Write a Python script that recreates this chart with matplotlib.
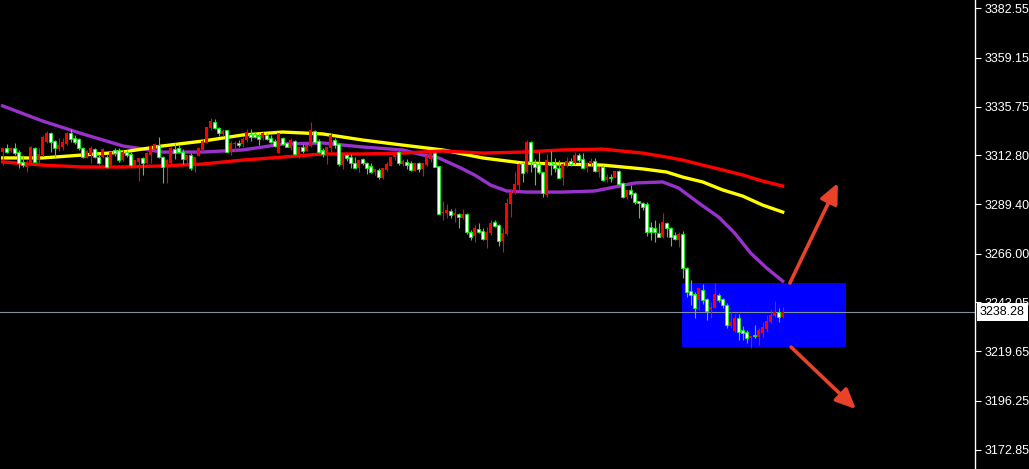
import numpy as np
import matplotlib
matplotlib.use("Agg")
import matplotlib.pyplot as plt
import matplotlib.transforms as mtransforms
from matplotlib.patches import Rectangle

# OHLC (one bar every candle index)
opens = [
    3314.4, 3316.1, 3314.8, 3316.3, 3314.2, 3309.7, 3307.3, 3308.9, 3316.3, 3310.5,
    3312.9, 3319.2, 3323.2, 3319.5, 3315.6, 3316.8, 3318.0, 3323.2, 3320.8, 3320.5,
    3316.1, 3311.6, 3312.9, 3315.7, 3312.1, 3312.1, 3312.1, 3308.1, 3315.3, 3315.3,
    3310.5, 3314.2, 3313.2, 3308.1, 3309.7, 3311.3, 3308.9, 3312.9, 3315.6, 3317.6,
    3312.1, 3308.1, 3308.9, 3315.6, 3316.1, 3314.4, 3310.5, 3312.9, 3308.1, 3312.4,
    3315.3, 3318.7, 3325.6, 3328.7, 3325.6, 3322.9, 3324.8, 3314.4, 3318.0, 3318.4,
    3318.0, 3320.0, 3322.9, 3322.7, 3321.9, 3320.8, 3322.4, 3321.1, 3319.5, 3313.7,
    3320.8, 3318.4, 3316.1, 3319.5, 3313.2, 3316.8, 3314.8, 3317.3, 3324.3, 3319.5,
    3315.3, 3313.2, 3316.1, 3320.0, 3318.0, 3308.1, 3312.9, 3312.1, 3308.9, 3306.8,
    3310.8, 3308.9, 3307.8, 3304.7, 3305.8, 3302.1, 3305.8, 3307.8, 3311.8, 3314.4,
    3308.5, 3309.7, 3308.9, 3305.4, 3309.2, 3306.1, 3308.1, 3310.8, 3314.0, 3307.7,
    3285.2, 3285.5, 3286.3, 3284.4, 3284.9, 3282.8, 3284.9, 3276.4, 3274.4, 3277.9,
    3276.9, 3272.5, 3276.0, 3281.1, 3279.6, 3272.2, 3275.4, 3289.6, 3295.0, 3298.6,
    3308.9, 3304.7, 3319.2, 3309.1, 3308.5, 3304.7, 3293.9, 3309.7, 3308.5, 3306.6,
    3302.1, 3307.8, 3310.0, 3308.9, 3312.9, 3311.0, 3306.8, 3308.5, 3310.0, 3304.9,
    3307.3, 3301.0, 3302.6, 3301.8, 3305.3, 3299.4, 3293.1, 3296.3, 3294.7, 3291.0,
    3289.9, 3289.5, 3278.7, 3278.3, 3276.0, 3273.8, 3280.7, 3278.1, 3274.9, 3272.5,
    3275.2, 3259.3, 3248.3, 3246.7, 3244.0, 3248.8, 3244.5, 3239.3, 3240.3, 3246.4,
    3244.5, 3241.6, 3231.8, 3229.3, 3235.3, 3229.8, 3228.7, 3226.0, 3227.4, 3226.6,
    3228.6, 3230.2, 3233.5, 3236.4, 3238.4, 3236.1,
]
highs = [
    3316.2, 3318.0, 3316.7, 3318.4, 3315.3, 3312.9, 3310.5, 3317.2, 3316.8, 3316.1,
    3322.4, 3324.4, 3323.9, 3320.0, 3320.8, 3320.8, 3323.8, 3325.2, 3322.4, 3320.8,
    3316.8, 3315.3, 3317.2, 3316.3, 3312.9, 3316.2, 3312.9, 3314.8, 3316.1, 3316.1,
    3315.3, 3315.3, 3314.3, 3310.5, 3311.5, 3312.1, 3314.3, 3317.6, 3318.6, 3321.6,
    3312.4, 3310.8, 3316.8, 3318.4, 3317.6, 3315.6, 3312.9, 3313.7, 3312.1, 3316.1,
    3320.3, 3326.3, 3330.3, 3329.8, 3326.3, 3325.2, 3324.8, 3319.7, 3319.7, 3320.0,
    3321.3, 3325.1, 3325.1, 3323.9, 3323.2, 3323.8, 3323.2, 3322.4, 3320.5, 3323.3,
    3321.6, 3319.1, 3320.8, 3320.0, 3316.8, 3318.0, 3317.6, 3328.4, 3324.8, 3320.5,
    3316.1, 3316.5, 3323.2, 3320.8, 3318.4, 3312.9, 3313.2, 3313.2, 3312.1, 3310.5,
    3311.6, 3309.7, 3308.9, 3306.2, 3306.6, 3306.8, 3309.4, 3312.1, 3314.4, 3314.9,
    3311.0, 3310.8, 3310.2, 3309.2, 3309.7, 3308.9, 3313.4, 3314.4, 3314.4, 3307.7,
    3291.2, 3289.6, 3287.1, 3287.6, 3285.2, 3287.1, 3285.2, 3277.3, 3279.6, 3280.7,
    3278.1, 3278.5, 3282.0, 3282.0, 3280.1, 3278.1, 3292.3, 3296.6, 3304.9, 3308.9,
    3309.7, 3320.0, 3319.5, 3311.0, 3314.4, 3304.9, 3313.2, 3314.8, 3311.3, 3310.5,
    3308.9, 3312.1, 3311.3, 3314.4, 3313.7, 3313.7, 3309.7, 3311.3, 3311.3, 3307.3,
    3308.1, 3303.7, 3303.7, 3305.3, 3305.8, 3300.2, 3296.3, 3298.6, 3295.4, 3291.0,
    3290.7, 3290.7, 3281.1, 3282.0, 3280.6, 3285.2, 3281.2, 3278.5, 3276.4, 3276.4,
    3276.9, 3259.8, 3253.5, 3247.9, 3249.8, 3251.5, 3245.1, 3242.9, 3251.9, 3247.2,
    3245.1, 3242.4, 3238.2, 3237.2, 3237.2, 3231.7, 3229.8, 3227.4, 3232.1, 3230.7,
    3233.4, 3236.9, 3239.3, 3243.5, 3240.1, 3240.8,
]
lows = [
    3308.1, 3313.7, 3314.3, 3312.9, 3306.8, 3307.3, 3304.9, 3308.6, 3309.6, 3308.9,
    3312.4, 3318.4, 3314.4, 3312.1, 3314.8, 3315.3, 3317.6, 3319.2, 3318.0, 3315.3,
    3311.3, 3311.5, 3308.9, 3311.3, 3308.5, 3311.5, 3306.6, 3307.7, 3312.5, 3309.7,
    3310.0, 3311.9, 3307.7, 3306.6, 3300.7, 3303.4, 3308.6, 3308.9, 3315.3, 3311.3,
    3299.7, 3299.7, 3308.1, 3310.8, 3313.8, 3308.6, 3308.9, 3305.8, 3304.9, 3312.4,
    3314.4, 3318.7, 3324.8, 3325.1, 3321.9, 3321.9, 3314.3, 3312.9, 3314.4, 3316.8,
    3316.8, 3319.2, 3319.7, 3320.8, 3317.6, 3320.0, 3320.0, 3318.4, 3316.8, 3313.7,
    3317.6, 3316.5, 3315.3, 3312.9, 3311.3, 3313.7, 3314.8, 3316.8, 3318.4, 3313.7,
    3312.1, 3308.5, 3314.4, 3316.1, 3307.8, 3306.2, 3310.0, 3306.8, 3306.6, 3304.9,
    3308.1, 3303.7, 3304.2, 3303.4, 3301.5, 3301.5, 3305.3, 3307.7, 3310.5, 3308.1,
    3307.7, 3306.1, 3305.4, 3305.4, 3304.9, 3302.9, 3307.7, 3309.7, 3307.0, 3284.8,
    3282.1, 3282.8, 3282.8, 3281.2, 3278.1, 3282.3, 3275.4, 3272.5, 3271.7, 3275.7,
    3272.5, 3268.6, 3274.9, 3278.8, 3269.7, 3266.9, 3274.9, 3283.6, 3294.4, 3296.3,
    3300.2, 3304.2, 3304.9, 3298.6, 3303.7, 3293.1, 3293.1, 3303.4, 3304.9, 3301.8,
    3298.6, 3307.3, 3307.8, 3308.5, 3309.7, 3306.6, 3304.9, 3307.8, 3304.9, 3302.6,
    3300.5, 3300.2, 3300.2, 3301.8, 3298.6, 3292.3, 3292.0, 3292.3, 3289.5, 3283.1,
    3286.8, 3274.5, 3272.5, 3271.4, 3273.8, 3273.3, 3274.1, 3269.6, 3272.5, 3269.3,
    3254.3, 3245.6, 3241.6, 3235.6, 3239.3, 3242.0, 3234.5, 3235.3, 3240.1, 3242.9,
    3240.3, 3230.8, 3230.6, 3228.9, 3225.0, 3225.0, 3223.4, 3221.2, 3225.8, 3222.6,
    3226.6, 3228.7, 3232.9, 3236.1, 3233.7, 3235.3,
]
closes = [
    3316.1, 3314.4, 3316.3, 3313.7, 3308.9, 3308.1, 3309.4, 3316.5, 3309.7, 3313.2,
    3321.6, 3323.5, 3318.9, 3316.1, 3317.6, 3318.9, 3323.2, 3320.5, 3319.2, 3316.1,
    3312.1, 3314.8, 3316.1, 3312.1, 3309.2, 3315.7, 3307.3, 3314.2, 3313.7, 3310.5,
    3314.2, 3312.9, 3308.1, 3310.5, 3311.3, 3308.9, 3314.0, 3317.2, 3318.0, 3312.1,
    3307.0, 3310.5, 3316.1, 3313.7, 3314.4, 3310.8, 3312.9, 3306.6, 3312.1, 3316.1,
    3319.7, 3326.3, 3329.2, 3325.6, 3323.5, 3324.4, 3314.4, 3318.7, 3318.4, 3317.6,
    3320.3, 3323.7, 3321.6, 3321.6, 3320.3, 3323.2, 3320.5, 3318.9, 3317.3, 3323.2,
    3318.0, 3316.5, 3320.0, 3313.2, 3316.8, 3314.8, 3317.6, 3324.8, 3319.2, 3314.2,
    3313.2, 3316.5, 3322.4, 3317.6, 3308.5, 3312.9, 3311.3, 3308.9, 3306.8, 3310.5,
    3308.9, 3306.8, 3304.7, 3306.2, 3302.6, 3306.8, 3308.5, 3312.1, 3313.7, 3308.9,
    3310.2, 3308.1, 3305.8, 3309.2, 3306.1, 3308.9, 3312.4, 3314.0, 3307.3, 3284.8,
    3285.9, 3286.8, 3284.4, 3285.2, 3283.3, 3284.9, 3276.4, 3274.1, 3278.1, 3276.4,
    3272.8, 3276.4, 3280.4, 3279.2, 3272.2, 3276.0, 3290.2, 3295.4, 3299.1, 3308.6,
    3304.2, 3319.2, 3309.7, 3307.2, 3304.7, 3294.7, 3310.5, 3308.1, 3306.6, 3302.1,
    3308.5, 3310.0, 3308.5, 3312.9, 3310.5, 3306.8, 3308.9, 3310.0, 3305.3, 3307.3,
    3301.0, 3302.6, 3301.8, 3305.3, 3299.0, 3293.1, 3296.3, 3294.2, 3290.7, 3289.9,
    3288.3, 3276.4, 3276.1, 3276.2, 3274.1, 3281.2, 3278.1, 3274.1, 3272.8, 3275.2,
    3259.1, 3247.9, 3246.4, 3240.1, 3249.6, 3244.0, 3238.8, 3240.8, 3246.7, 3244.0,
    3241.6, 3232.1, 3233.7, 3235.6, 3228.9, 3228.6, 3226.1, 3226.9, 3226.9, 3229.8,
    3231.2, 3234.0, 3236.9, 3238.4, 3235.9, 3238.28,
]

# moving averages, sampled at candle indices
purple_idx = [0, 10, 20, 30, 40, 50, 60, 70, 80, 90, 100, 105, 109, 114, 118,
              122, 126, 131, 140, 148, 153, 158, 165, 169, 174, 179, 183, 187, 191, 195]
purple_val = [3336.2, 3329.0, 3322.9, 3317.2, 3314.3, 3314.3, 3315.3, 3318.1, 3318.6,
              3316.7, 3315.3, 3312.9, 3311.5, 3307.2, 3303.4, 3298.6, 3295.8, 3295.3,
              3295.3, 3295.8, 3297.7, 3299.6, 3300.1, 3297.2, 3290.1, 3283.4, 3275.8,
              3266.3, 3259.2, 3253.0]
ma_idx = [0, 10, 20, 30, 40, 50, 60, 70, 80, 90, 100, 110, 120, 130, 140, 150,
          160, 166, 170, 175, 180, 185, 190, 195]
yellow_val = [3311.5, 3311.5, 3312.9, 3314.3, 3317.2, 3319.5, 3322.4, 3323.8, 3322.9,
              3320.0, 3317.6, 3315.3, 3311.5, 3309.1, 3308.6, 3308.1, 3306.3, 3304.8,
              3302.4, 3300.1, 3296.3, 3293.4, 3289.1, 3285.8]
red_val = [3309.6, 3308.1, 3307.2, 3307.2, 3307.7, 3308.6, 3310.5, 3311.9, 3313.4,
           3313.4, 3313.8, 3314.8, 3313.8, 3314.3, 3315.3, 3315.7, 3313.8, 3311.9,
           3310.5, 3308.1, 3305.8, 3303.4, 3300.5, 3298.2]

price_ticks = [3382.55, 3359.15, 3335.75, 3312.80, 3289.40, 3266.00,
               3243.05, 3219.65, 3196.25, 3172.85]
last_price = 3238.28

# highlighted zone and the two scenario arrows
zone_x = (169.8, 210.8)
zone_y = (3221.7, 3252.1)
arrow_up = ((196.8, 3252.1), (208.8, 3299.6))
arrow_down = ((197.1, 3221.7), (213.3, 3192.3))

o = np.array(opens)
h = np.array(highs)
l = np.array(lows)
c = np.array(closes)
idx = np.arange(len(c))
up = c > o
dn = ~up

fig = plt.figure(figsize=(10.29, 4.69), dpi=100, facecolor="black")
ax = fig.add_axes([0, 0, 975 / 1029, 1])
ax.set_facecolor("black")

ax.add_patch(Rectangle((zone_x[0], zone_y[0]), zone_x[1] - zone_x[0],
                       zone_y[1] - zone_y[0], facecolor="#0000ff",
                       edgecolor="none", zorder=1))
ax.axhline(last_price, color="#8090a0", lw=0.8, zorder=1.5)

ax.plot(purple_idx, purple_val, color="#9932cc", lw=2.4, zorder=2)
ax.plot(ma_idx, yellow_val, color="#ffff00", lw=2.4, zorder=2)
ax.plot(ma_idx, red_val, color="#ff0000", lw=2.4, zorder=2)

# wicks
ax.vlines(idx[up], l[up], h[up], color="#ff0000", lw=0.8, zorder=3)
ax.vlines(idx[dn], l[dn], h[dn], color="#00ff00", lw=0.8, zorder=3)
# bodies: red = rising bar, white with green frame = falling bar
ax.bar(idx[up], c[up] - o[up], bottom=o[up], width=0.75, color="#ff0000",
       linewidth=0, zorder=4)
ax.bar(idx[dn], o[dn] - c[dn], bottom=c[dn], width=0.75, facecolor="white",
       edgecolor="#00ff00", linewidth=0.6, zorder=4)

for (x0, y0), (x1, y1) in (arrow_up, arrow_down):
    ax.annotate("", xy=(x1, y1), xytext=(x0, y0),
                arrowprops=dict(arrowstyle="-|>,head_length=1.2,head_width=0.55",
                                color="#e8432a", lw=2.6, shrinkA=0, shrinkB=0),
                zorder=5)

ax.set_xlim(-0.675, 243.075)
ax.set_ylim(3163.81, 3386.49)

for side in ("left", "top", "bottom"):
    ax.spines[side].set_visible(False)
ax.spines["right"].set_color("white")
ax.spines["right"].set_linewidth(1)

ax.set_xticks([])
ax.yaxis.tick_right()
ax.set_yticks(price_ticks)
ax.set_yticklabels([f"{v:.2f}" for v in price_ticks])
ax.tick_params(axis="y", colors="white", length=4, width=0.8, pad=3,
               labelsize=9)
for lab in ax.get_yticklabels():
    lab.set_fontfamily("Liberation Sans")

# last price tag sits over the axis labels, like the terminal draws it
trans = mtransforms.blended_transform_factory(ax.transAxes, ax.transData)
ax.text(1.0 + 5 / 975, last_price, f"{last_price:.2f}", transform=trans,
        ha="left", va="center", color="black", fontsize=9,
        family="Liberation Sans", clip_on=False, zorder=6,
        bbox=dict(facecolor="white", edgecolor="none",
                  boxstyle="square,pad=0.25"))

fig.savefig("out.png", dpi=100, facecolor="black")
